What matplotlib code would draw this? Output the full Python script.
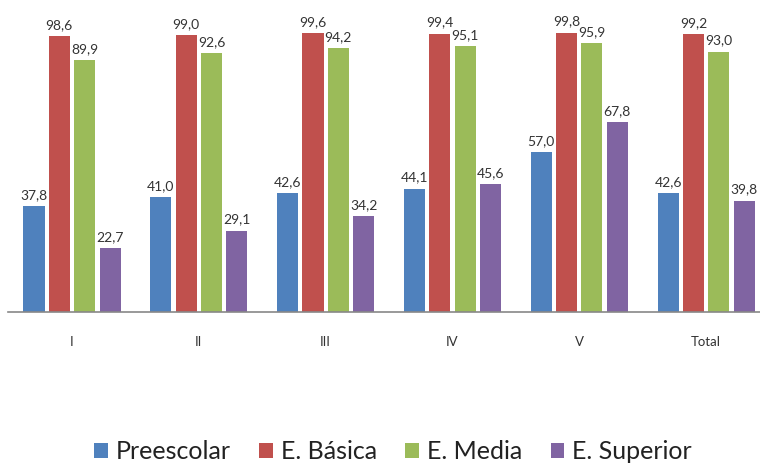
import matplotlib
matplotlib.use("Agg")
import matplotlib.pyplot as plt
import numpy as np

categories = ["I", "II", "III", "IV", "V", "Total"]
preescolar = [37.8, 41.0, 42.6, 44.1, 57.0, 42.6]
basica = [98.6, 99.0, 99.6, 99.4, 99.8, 99.2]
media = [89.9, 92.6, 94.2, 95.1, 95.9, 93.0]
superior = [22.7, 29.1, 34.2, 45.6, 67.8, 39.8]

series_names = ["Preescolar", "E. Básica", "E. Media", "E. Superior"]
colors = ["#4F81BD", "#C0504D", "#9BBB59", "#8064A2"]

plt.rcParams['font.family'] = ['Lato', 'DejaVu Sans']

fig = plt.figure(figsize=(7.6, 4.63), dpi=100)
ax = fig.add_axes([8 / 760, 151 / 463, 752 / 760, 280 / 463])

x = np.arange(len(categories))
width = 0.166
step = 0.2
all_series = [preescolar, basica, media, superior]
for i, (vals, name, col) in enumerate(zip(all_series, series_names, colors)):
    pos = x + (i - 1.5) * step
    bars = ax.bar(pos, vals, width, color=col, label=name)
    for b, v in zip(bars, vals):
        ax.text(b.get_x() + b.get_width() / 2, v + 1.8, ("%.1f" % v).replace(".", ","),
                ha="center", va="bottom", fontsize=10, color="#333333")

ax.set_xlim(-0.505, 5.425)
ax.set_ylim(0, 100)
ax.set_xticks(x)
ax.set_xticklabels(categories, fontsize=9.5, color="#333333")
ax.tick_params(axis="x", length=0, pad=17)
ax.set_yticks([])
for s in ["top", "right", "left"]:
    ax.spines[s].set_visible(False)
ax.spines["bottom"].set_color("#888888")
ax.spines["bottom"].set_linewidth(1.2)

fig.legend(loc="center", bbox_to_anchor=(0.517, 0.024), ncol=4, frameon=False,
           fontsize=18, handlelength=0.55, handleheight=0.55, handletextpad=0.3,
           columnspacing=1.15, labelcolor="#222222")

fig.savefig("out.png", dpi=100)
